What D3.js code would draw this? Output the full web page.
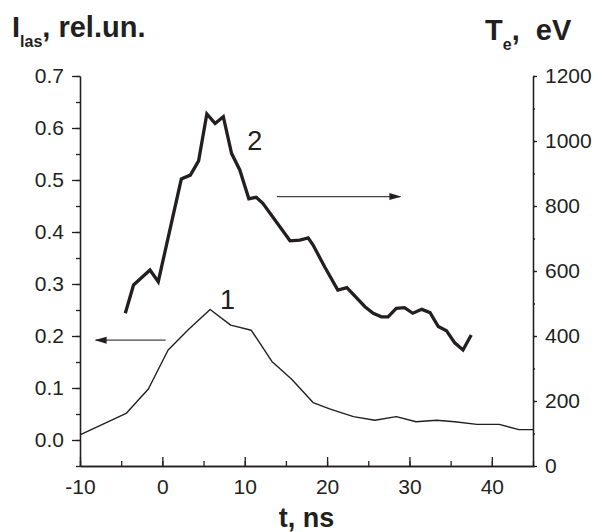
<!DOCTYPE html>
<html>
<head>
<meta charset="utf-8">
<script src="https://cdn.jsdelivr.net/npm/d3@7"></script>
<style>
  html, body { margin: 0; padding: 0; background: #fff; }
  svg text { font-family: 'Liberation Sans', Arial, sans-serif; fill: #231f20; }
</style>
</head>
<body>
<div id="chart"></div>
<script>
// curve 1: laser intensity (left axis)
const laserTime = [-10, -4.4, -1.7, 0.7, 3.2, 5.8, 8.3, 10.8, 13.3, 15.7, 18.3, 20.3, 23.2, 25.8, 28.4, 30.8, 33.3, 35.5, 38.2, 40.9, 43.3, 45]
const laserValue = [0.01, 0.051, 0.098, 0.173, 0.213, 0.251, 0.221, 0.211, 0.151, 0.117, 0.072, 0.06, 0.045, 0.038, 0.045, 0.035, 0.038, 0.035, 0.03, 0.03, 0.02, 0.02]

// curve 2: electron temperature (right axis)
const teTime = [-4.5, -3.5, -1.5, -0.5, 2.3, 3.4, 4.4, 5.4, 6.4, 7.4, 8.4, 9.4, 10.5, 11.4, 12.2, 15.5, 16.7, 17.7, 18.3, 19.7, 21.3, 22.4, 24.6, 25.6, 26.6, 27.4, 28.4, 29.4, 30.4, 31.5, 32.5, 33.5, 34.5, 35.5, 36.5, 37.5]
const teValue = [470, 557, 603, 567, 883, 895, 939, 1083, 1054, 1075, 962, 911, 822, 827, 808, 693, 695, 702, 680, 613, 541, 549, 490, 470, 459, 459, 485, 487, 470, 482, 472, 429, 416, 379, 357, 403]

const xTicks = [-10, 0, 10, 20, 30, 40]
const leftTicks = [0, 0.1, 0.2, 0.3, 0.4, 0.5, 0.6, 0.7]
const rightTicks = [0, 200, 400, 600, 800, 1000, 1200]

const width = 595
const height = 532
const margin = { top: 76, right: 62, bottom: 66, left: 80 }
const ink = '#231f20'

const svg = d3.select('#chart').append('svg')
  .attr('width', width)
  .attr('height', height)

const x = d3.scaleLinear().domain([-10, 45]).range([margin.left, width - margin.right])
const yLeft = d3.scaleLinear().domain([-0.05, 0.7]).range([height - margin.bottom, margin.top])
const yRight = d3.scaleLinear().domain([0, 1200]).range([height - margin.bottom, margin.top])

const styleAxis = g => {
  g.select('.domain').attr('stroke', ink).attr('stroke-width', 1.3)
  g.selectAll('.tick line').attr('stroke', ink).attr('stroke-width', 1.3)
  g.selectAll('.tick text').style('font-size', '21px')
}

// bottom axis, ticks pointing inside
svg.append('g')
  .attr('transform', `translate(0,${height - margin.bottom})`)
  .call(d3.axisBottom(x).tickValues(d3.range(-10, 46, 5)).tickSize(-5).tickSizeOuter(0).tickFormat(''))
  .call(styleAxis)
svg.append('g')
  .attr('transform', `translate(0,${height - margin.bottom})`)
  .call(d3.axisBottom(x).tickValues(xTicks).tickSize(-9).tickSizeOuter(0).tickPadding(13).tickFormat(d => String(d)))
  .call(styleAxis)

// left axis
svg.append('g')
  .attr('transform', `translate(${margin.left},0)`)
  .call(d3.axisLeft(yLeft).tickValues(d3.range(-0.05, 0.71, 0.05)).tickSize(4).tickSizeOuter(0).tickFormat(''))
  .call(styleAxis)
svg.append('g')
  .attr('transform', `translate(${margin.left},0)`)
  .call(d3.axisLeft(yLeft).tickValues(leftTicks).tickSize(8).tickSizeOuter(0).tickPadding(8).tickFormat(d3.format('.1f')))
  .call(styleAxis)

// right axis
svg.append('g')
  .attr('transform', `translate(${width - margin.right},0)`)
  .call(d3.axisRight(yRight).tickValues(d3.range(0, 1201, 100)).tickSize(2).tickSizeOuter(0).tickFormat(''))
  .call(styleAxis)
svg.append('g')
  .attr('transform', `translate(${width - margin.right},0)`)
  .call(d3.axisRight(yRight).tickValues(rightTicks).tickSize(4).tickSizeOuter(0).tickPadding(8).tickFormat(d3.format('d')))
  .call(styleAxis)

// curves
const laserLine = d3.line().x((d, i) => x(laserTime[i])).y(d => yLeft(d))
const teLine = d3.line().x((d, i) => x(teTime[i])).y(d => yRight(d))

svg.append('path')
  .datum(laserValue)
  .attr('d', laserLine)
  .attr('fill', 'none')
  .attr('stroke', ink)
  .attr('stroke-width', 1.4)
  .attr('stroke-linejoin', 'round')

svg.append('path')
  .datum(teValue)
  .attr('d', teLine)
  .attr('fill', 'none')
  .attr('stroke', ink)
  .attr('stroke-width', 3.3)
  .attr('stroke-linejoin', 'miter')

// curve numbers
svg.append('text').attr('x', x(7.0)).attr('y', yLeft(0.252)).style('font-size', '27px').text('1')
svg.append('text').attr('x', x(10.3)).attr('y', yRight(972)).style('font-size', '27px').text('2')

// arrows pointing to each curve's axis
svg.append('defs').append('marker')
  .attr('id', 'head')
  .attr('viewBox', '0 0 12 8')
  .attr('refX', 11)
  .attr('refY', 4)
  .attr('markerWidth', 12)
  .attr('markerHeight', 8)
  .attr('markerUnits', 'userSpaceOnUse')
  .attr('orient', 'auto')
  .append('path')
  .attr('d', 'M0,0.5 L12,4 L0,7.5 Z')
  .attr('fill', ink)

svg.append('line')
  .attr('x1', x(0.4)).attr('x2', x(-8.1))
  .attr('y1', yLeft(0.192)).attr('y2', yLeft(0.192))
  .attr('stroke', '#444').attr('stroke-width', 1.1)
  .attr('marker-end', 'url(#head)')

svg.append('line')
  .attr('x1', x(13.9)).attr('x2', x(28.9))
  .attr('y1', yRight(829)).attr('y2', yRight(829))
  .attr('stroke', '#444').attr('stroke-width', 1.1)
  .attr('marker-end', 'url(#head)')

// axis titles
const leftTitle = svg.append('text').attr('x', 12).attr('y', 37)
  .style('font-size', '29px').style('font-weight', 'bold')
leftTitle.append('tspan').text('I')
leftTitle.append('tspan').attr('dy', 10).style('font-size', '16px').text('las')
leftTitle.append('tspan').attr('dy', -10).text(', rel.un.')

const rightTitle = svg.append('text').attr('x', 485).attr('y', 40)
  .style('font-size', '29px').style('font-weight', 'bold')
rightTitle.append('tspan').text('T')
rightTitle.append('tspan').attr('dy', 10).style('font-size', '16px').text('e')
rightTitle.append('tspan').attr('dy', -10).text(',\u00a0 eV')

svg.append('text')
  .attr('x', (x.range()[0] + x.range()[1]) / 2)
  .attr('y', 527)
  .attr('text-anchor', 'middle')
  .style('font-size', '27px')
  .style('font-weight', 'bold')
  .text('t, ns')
</script>
</body>
</html>
